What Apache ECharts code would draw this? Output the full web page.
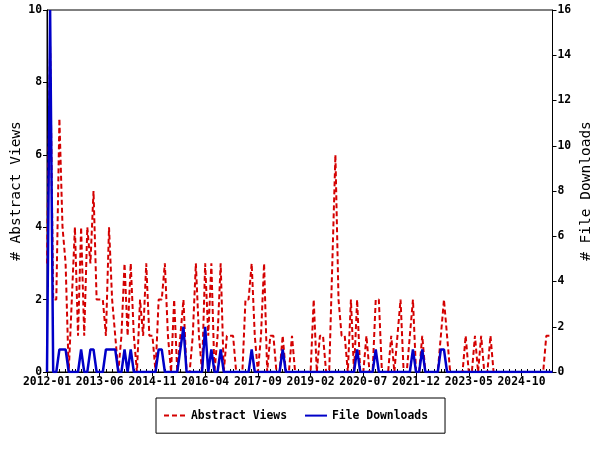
<!DOCTYPE html>
<html><head><meta charset="utf-8">
<script src="https://cdn.jsdelivr.net/npm/echarts@6/dist/echarts.min.js"></script>
<style>html,body{margin:0;padding:0;background:#fff}#c{width:600px;height:450px}</style>
</head><body><div id="c"></div>
<script>
// first month of the series (monthly data)
const startYear = 2012, startMonth = 1;

const abstractViews = [
  3,9,2,2,7,4,3,0,2,4,
  1,4,1,4,3,5,2,2,2,1,
  4,2,1,0,1,3,1,3,1,0,
  2,1,3,1,1,0,2,2,3,1,
  0,2,0,1,2,0,0,1,3,1,
  0,3,1,3,0,1,3,0,1,1,
  1,0,0,0,2,2,3,1,0,1,
  3,0,1,1,0,0,1,0,0,1,
  0,0,0,0,0,0,2,0,1,1,
  0,0,3,6,2,1,1,0,2,0,
  2,0,0,1,0,0,2,2,0,0,
  0,1,0,1,2,0,0,1,2,0,
  0,1,0,0,0,0,0,1,2,1,
  0,0,0,0,0,1,0,0,1,0,
  1,0,0,1,0,0,0,0,0,0,
  0,0,0,0,0,0,0,0,0,0,
  0,1,1,1
];
const fileDownloads = [
  0,16,0,0,1,1,1,0,0,0,
  0,1,0,0,1,1,0,0,0,1,
  1,1,1,0,0,1,0,1,0,0,
  0,0,0,0,0,0,1,1,0,0,
  0,0,0,1,2,0,0,0,0,0,
  0,2,0,1,0,0,1,0,0,0,
  0,0,0,0,0,0,1,0,0,0,
  0,0,0,0,0,0,1,0,0,0,
  0,0,0,0,0,0,0,0,0,0,
  0,0,0,0,0,0,0,0,0,0,
  1,0,0,0,0,0,1,0,0,0,
  0,0,0,0,0,0,0,0,1,0,
  0,1,0,0,0,0,0,1,1,0,
  0,0,0,0,0,0,0,0,0,0,
  0,0,0,0,0,0,0,0,0,0,
  0,0,0,0,0,0,0,0,0,0,
  0,0,0,0
];
const seriesNames = ['Abstract Views', 'File Downloads'];
const leftAxisMax = 10, leftAxisStep = 2;
const rightAxisMax = 16, rightAxisStep = 2;
const labelEvery = 17;

const months = [];
for (let i = 0; i < abstractViews.length; i++) {
  const m = startMonth - 1 + i;
  const y = startYear + Math.floor(m / 12);
  const mm = (m % 12) + 1;
  months.push(y + '-' + (mm < 10 ? '0' + mm : mm));
}
const minorTicks = new Set();
for (let k = 0; ; k++) { const p = Math.round(k * labelEvery / 9); if (p >= months.length) break; minorTicks.add(p); }

const FONT = 'DejaVu Sans Mono';
const txt = { color: '#000', fontFamily: FONT, fontWeight: 'bold', fontSize: 11.4 };
const chart = echarts.init(document.getElementById('c'), null, { renderer: 'canvas' });
chart.setOption({
  animation: false,
  backgroundColor: '#fff',
  grid: { left: 47, right: 47.5, top: 10, bottom: 78, containLabel: false, outerBoundsMode: 'none',
          show: true, borderColor: '#000', borderWidth: 1, backgroundColor: 'transparent' },
  legend: {
    data: seriesNames, left: 156, top: 398, orient: 'horizontal',
    padding: [12, 17, 12, 7], itemGap: 17, itemWidth: 22, itemHeight: 14,
    borderColor: '#000', borderWidth: 1,
    itemStyle: { color: 'transparent', borderWidth: 0, opacity: 0 },
    textStyle: txt
  },
  xAxis: [{
    type: 'category', data: months, boundaryGap: false,
    axisLine: { lineStyle: { color: '#000', width: 1 } },
    axisTick: { inside: true, length: 3, lineStyle: { color: '#000' }, interval: (i) => minorTicks.has(i) },
    axisLabel: Object.assign({ interval: labelEvery - 1, margin: 5 }, txt),
    splitLine: { show: false }
  }, {
    type: 'category', data: months, boundaryGap: false, position: 'bottom',
    axisLine: { show: false },
    axisTick: { inside: false, length: 4, lineStyle: { color: '#000' }, interval: labelEvery - 1 },
    axisLabel: { show: false }, splitLine: { show: false }
  }],
  yAxis: [{
    type: 'value', min: 0, max: leftAxisMax, interval: leftAxisStep, position: 'left',
    name: '# Abstract Views', nameLocation: 'middle', nameGap: 23, nameRotate: 90, nameMoveOverlap: false,
    nameTextStyle: { color: '#000', fontFamily: FONT, fontSize: 14.5 },
    axisLine: { show: true, lineStyle: { color: '#000' } },
    axisTick: { show: true, length: 4, lineStyle: { color: '#000' } },
    axisLabel: Object.assign({ margin: 5 }, txt),
    splitLine: { show: false }
  }, {
    type: 'value', min: 0, max: rightAxisMax, interval: rightAxisStep, position: 'right',
    name: '# File Downloads', nameLocation: 'middle', nameGap: 26, nameRotate: 90, nameMoveOverlap: false,
    nameTextStyle: { color: '#000', fontFamily: FONT, fontSize: 14.5 },
    axisLine: { show: true, lineStyle: { color: '#000' } },
    axisTick: { show: true, length: 4, lineStyle: { color: '#000' } },
    axisLabel: Object.assign({ margin: 5 }, txt),
    splitLine: { show: false }
  }],
  series: [{
    name: seriesNames[0], type: 'line', data: abstractViews, yAxisIndex: 0,
    symbol: 'none', showSymbol: false, z: 2,
    lineStyle: { color: '#d40000', width: 2, type: [5, 3] },
    itemStyle: { color: '#d40000' }
  }, {
    name: seriesNames[1], type: 'line', data: fileDownloads, yAxisIndex: 1,
    symbol: 'none', showSymbol: false, z: 3,
    lineStyle: { color: '#0000c8', width: 2.5 },
    itemStyle: { color: '#0000c8' }
  }]
});
</script></body></html>
